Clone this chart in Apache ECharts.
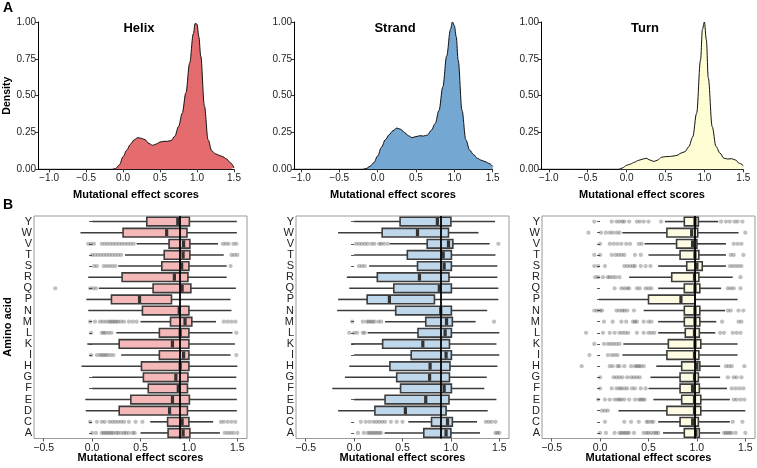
<!DOCTYPE html>
<html><head><meta charset="utf-8">
<script src="https://cdn.jsdelivr.net/npm/echarts@6/dist/echarts.min.js"></script>
<style>html,body{margin:0;padding:0;background:#fff}#c{width:757px;height:468px}</style>
</head><body><div id="c"></div><script>
// ---------- Panel A: density curves ----------
const densityX = [-1.15,-0.20,-0.15,-0.10,-0.05,0.00,0.05,0.10,0.15,0.20,0.25,0.30,0.35,0.40,0.45,0.50,0.55,0.60,0.65,0.70,0.75,0.80,0.85,0.90,0.95,0.975,1.00,1.025,1.05,1.10,1.15,1.20,1.25,1.30,1.35,1.40,1.45,1.50];
const helixDensity  = [0,0,0,0.005,0.03,0.085,0.13,0.17,0.20,0.215,0.21,0.20,0.175,0.163,0.172,0.185,0.19,0.19,0.195,0.225,0.29,0.38,0.52,0.72,0.92,0.99,0.985,0.90,0.77,0.43,0.20,0.125,0.105,0.095,0.085,0.07,0.045,0.01];
const strandDensity = [0,0,0.005,0.02,0.045,0.09,0.15,0.20,0.235,0.262,0.28,0.272,0.25,0.228,0.215,0.222,0.228,0.226,0.233,0.265,0.31,0.40,0.56,0.77,0.95,1.0,0.975,0.90,0.74,0.40,0.20,0.13,0.10,0.075,0.062,0.052,0.04,0.02];
const turnDensity   = [0,0,0,0,0.01,0.027,0.036,0.048,0.06,0.068,0.075,0.063,0.053,0.063,0.082,0.086,0.087,0.09,0.095,0.11,0.12,0.154,0.22,0.38,0.74,0.95,1.0,0.88,0.62,0.29,0.154,0.11,0.075,0.07,0.072,0.063,0.04,0.025];
const densityXTicks = [-1.0,-0.5,0.0,0.5,1.0,1.5];
const panelTitles = ['Helix','Strand','Turn'];

// ---------- Panel B: box plots ----------
const aminoAcids = ['A','C','D','E','F','G','H','I','K','L','M','N','P','Q','R','S','T','V','W','Y'];
const boxXTicks = [-0.5,0.0,0.5,1.0,1.5];

const helixLow  = [0.50,0.60,-0.065,-0.07,0.00,0.00,-0.11,0.30,-0.05,0.25,0.50,-0.04,-0.06,0.07,-0.04,0.27,0.34,0.46,-0.12,0.00];
const helixQ1   = [0.785,0.78,0.28,0.40,0.58,0.53,0.51,0.695,0.28,0.695,0.81,0.52,0.20,0.63,0.31,0.72,0.745,0.795,0.32,0.565];
const helixMed  = [0.94,0.93,0.80,0.83,0.89,0.865,0.91,0.945,0.83,0.91,0.96,0.90,0.49,0.93,0.85,0.925,0.94,0.945,0.77,0.885];
const helixQ3   = [1.01,1.00,0.985,1.005,0.985,0.99,1.00,1.00,1.00,1.00,1.03,1.00,0.82,1.02,0.99,1.00,1.01,1.01,0.98,1.005];
const helixHigh = [1.32,1.25,1.495,1.495,1.49,1.49,1.50,1.43,1.475,1.45,1.28,1.44,1.43,1.485,1.39,1.39,1.36,1.30,1.495,1.495];
const helixOutliers = [
  [0.0,0.04,0.10,0.12,0.14,0.16,0.18,0.20,0.22,0.25,0.27,0.30,0.33,0.35,0.38,0.42,0.44,1.37,1.40,1.43,1.46,1.50],
  [-0.02,0.05,0.10,0.13,0.18,0.21,0.24,0.27,0.30,0.33,0.38,0.45,0.52,1.33,1.36,1.40,1.44,1.48],
  [],[],[],[],[],
  [-0.01,0.05,0.08,0.10,0.12,0.14,0.16,0.19,0.22,1.49],
  [],
  [-0.01,0.10,0.12,0.14,0.17,0.20,1.49],
  [-0.02,0.03,0.08,0.11,0.14,0.17,0.19,0.21,0.23,0.25,0.27,0.30,0.33,0.38,0.42,0.46,1.36,1.40,1.44,1.48],
  [],[],
  [-0.38,-0.02,0.01,0.04],
  [],
  [0.02,0.05,0.12,0.15,0.18,0.21,0.24,1.43],
  [0.0,0.03,0.06,0.09,0.12,0.15,0.18,0.21,0.24,0.27,0.30,1.44,1.47,1.50],
  [-0.04,-0.01,0.02,0.10,0.13,0.16,0.19,0.22,0.25,0.28,0.31,0.34,0.37,0.40,0.43,1.35,1.38,1.41,1.46,1.49],
  [],[]
];

const strandLow  = [0.315,0.56,-0.165,0.00,-0.225,-0.095,-0.05,0.00,-0.03,0.14,0.32,-0.175,-0.165,-0.05,-0.075,0.155,0.00,0.37,-0.165,0.00];
const strandQ1   = [0.72,0.80,0.215,0.32,0.48,0.44,0.37,0.59,0.295,0.66,0.74,0.43,0.135,0.41,0.24,0.655,0.55,0.755,0.29,0.475];
const strandMed  = [0.95,0.965,0.53,0.74,0.93,0.78,0.785,0.95,0.71,0.94,0.955,0.895,0.365,0.88,0.675,0.93,0.92,0.975,0.655,0.86];
const strandQ3   = [1.00,1.015,0.95,0.98,1.005,0.985,0.99,1.005,0.985,1.005,1.015,1.005,0.83,1.005,0.98,1.005,1.005,1.02,0.975,1.00];
const strandHigh = [1.30,1.27,1.38,1.47,1.345,1.37,1.48,1.50,1.47,1.50,1.255,1.375,1.49,1.49,1.48,1.48,1.46,1.40,1.285,1.455];
const strandOutliers = [
  [0.04,0.10,0.14,0.16,0.18,0.20,0.22,0.24,0.26,0.28,1.46,1.48,1.50],
  [0.07,0.12,0.16,0.20,0.23,0.26,0.29,0.32,0.38,0.44,0.50,1.36,1.39,1.42,1.46],
  [],[],[],[],[],[],[],
  [-0.05,0.0,0.03,0.09,0.11],
  [-0.02,0.09,0.13,0.15,0.17,0.19,0.21,0.25,0.28,1.445],
  [],[],[],[],
  [0.05,0.08,0.11],
  [],
  [0.02,0.05,0.08,0.11,0.14,0.18,0.21,0.26,0.28,0.31,0.35,1.49],
  [],[]
];

const turnLow  = [0.65,0.60,0.19,0.55,0.50,0.52,0.58,0.23,0.24,0.60,0.60,0.45,-0.01,0.60,0.30,0.60,0.50,0.46,0.23,0.67];
const turnQ1   = [0.87,0.826,0.69,0.843,0.826,0.826,0.843,0.69,0.705,0.88,0.87,0.87,0.50,0.87,0.74,0.895,0.826,0.79,0.69,0.87];
const turnMed  = [0.99,0.956,0.975,0.975,0.955,0.975,1.00,0.975,0.98,0.975,0.98,0.98,0.835,0.98,0.975,1.00,0.98,0.955,0.946,0.98];
const turnQ3   = [1.025,1.015,1.04,1.04,1.025,1.015,1.03,1.02,1.04,1.025,1.03,1.03,0.98,1.03,1.02,1.055,1.02,1.00,1.008,1.015];
const turnHigh = [1.24,1.34,1.50,1.34,1.31,1.24,1.24,1.42,1.42,1.19,1.20,1.29,1.42,1.25,1.37,1.30,1.30,1.30,1.43,1.22];
const turnOutliers = [
  [0.0,0.06,0.15,0.20,0.22,0.24,0.26,0.28,0.30,0.35,0.45,0.48,0.50,0.53,0.56,0.58,0.60,1.28,1.30,1.32,1.34,1.36,1.40,1.50],
  [0.05,0.25,0.32,0.40,0.48,0.50,0.53,0.55,1.37,1.47],
  [0.02,0.05,0.08],
  [-0.02,0.05,0.10,0.15,0.18,0.20,0.22,0.25,0.30,0.36,0.40,0.42,0.44,0.46,1.38,1.41,1.45,1.49],
  [0.0,0.12,0.17,0.20,0.22,0.25,0.28,0.33,0.36,0.42,0.47,1.36,1.40,1.44,1.48],
  [0.0,0.14,0.17,0.20,0.23,0.28,0.32,0.35,0.38,0.41,1.32,1.38,1.41,1.46],
  [-0.19,0.10,0.13,0.18,0.20,0.25,0.32,0.36,0.38,0.40,0.42,0.45,1.30,1.33,1.36,1.49],
  [-0.11,0.08,0.12,0.15,0.18],
  [-0.06,0.04,0.08,0.11,0.14,0.17,0.20],
  [-0.145,0.03,0.10,0.15,0.20,0.23,0.26,0.29,0.38,0.45,0.50,0.53,0.56,1.24,1.28,1.37,1.41,1.45],
  [0.04,0.13,0.22,0.27,0.34,0.36,0.38,0.45,0.50,0.53,1.26,1.43,1.46],
  [-0.06,-0.03,0.0,0.02,0.17,0.20,0.23,0.25,0.28,0.35,1.32,1.35,1.43,1.48],
  [],
  [0.15,0.22,0.25,0.28,0.30,0.38,0.41,0.47,0.50,0.53,1.32,1.35,1.38,1.45],
  [-0.05,-0.02,0.03,0.08,0.10,0.13,0.16,0.20,1.45],
  [-0.06,-0.02,0.05,0.25,0.28,0.31,0.34,0.36,0.42,0.47,0.52,1.34,1.37,1.40,1.43,1.46],
  [-0.06,0.0,0.12,0.16,0.19,0.22,0.25,0.36,0.42,1.35,1.38,1.48],
  [0.0,0.10,0.14,0.18,0.22,0.27,0.31,0.40,0.43,1.38,1.42,1.46],
  [-0.12,0.01,0.06,0.10,0.13,0.17,0.20,1.50],
  [-0.06,0.12,0.17,0.20,0.23,0.25,0.30,0.38,0.41,0.45,0.50,0.63,1.25,1.30,1.34,1.39,1.42,1.47]
];
const referenceLines = [0.91, 0.895, 0.98];

// ---------- styles ----------
const FONT = 'Liberation Sans, Arial, Helvetica, sans-serif';
const densityFills = ['#E46B6E','#74A7D2','#FEFDD3'];
const boxFills = ['#F4B8B8','#BFD7EB','#FDFCE3'];
const minusFmt = d => v => (v < 0 ? '\u2212' : '') + Math.abs(v).toFixed(d);

const densGrids = [
  {left:38, top:22, width:196, height:147.3},
  {left:294, top:22, width:198.7, height:147.3},
  {left:541, top:22, width:202.3, height:147.3}
];
const densMins = [-1.15,-1.09,-1.10];
const boxGrids = [
  {left:34, top:216, width:213, height:222.5},
  {left:296, top:216, width:213, height:222.5},
  {left:542, top:216, width:213, height:222.5}
];

const grid = [], xAxis = [], yAxis = [], series = [];
densGrids.forEach((g,i) => {
  grid.push(Object.assign({containLabel:false}, g));
  xAxis.push({type:'value', gridIndex:i, min:densMins[i], max:1.5,
    axisLine:{show:true, onZero:false, lineStyle:{color:'#000', width:1}},
    axisTick:{show:true, length:3, lineStyle:{color:'#333'}, customValues:densityXTicks},
    axisLabel:{show:true, fontSize:10, color:'#222', fontFamily:FONT, margin:4, formatter:minusFmt(1), customValues:densityXTicks},
    splitLine:{show:false}});
  yAxis.push({type:'value', gridIndex:i, min:0, max:1, interval:0.25,
    axisLine:{show:true, onZero:false, lineStyle:{color:'#000', width:1}},
    axisTick:{show:true, length:3, lineStyle:{color:'#333'}},
    axisLabel:{show:true, fontSize:10, color:'#222', fontFamily:FONT, margin:2, formatter:v=>v.toFixed(2)},
    splitLine:{show:false}});
});
boxGrids.forEach((g,i) => {
  grid.push(Object.assign({show:true, borderColor:'#9a9a9a', borderWidth:1, backgroundColor:'transparent'}, g));
  xAxis.push({type:'value', gridIndex:3+i, min:-0.6, max:1.6,
    axisLine:{show:false},
    axisTick:{show:true, length:3, lineStyle:{color:'#555'}, customValues:boxXTicks},
    axisLabel:{show:true, fontSize:10.5, color:'#222', fontFamily:FONT, margin:4, formatter:minusFmt(1), customValues:boxXTicks},
    splitLine:{show:false}});
  yAxis.push({type:'category', gridIndex:3+i, data:aminoAcids,
    axisLine:{show:false},
    axisTick:{show:true, length:3, alignWithLabel:true, lineStyle:{color:'#555'}},
    axisLabel:{show:true, fontSize:11, color:'#222', fontFamily:FONT, margin:2, interval:0},
    splitLine:{show:false}});
});

[helixDensity, strandDensity, turnDensity].forEach((d,i) => {
  series.push({type:'line', xAxisIndex:i, yAxisIndex:i, data:densityX.map((x,j)=>[x,d[j]]),
    showSymbol:false, smooth:0.35, smoothMonotone:'x',
    lineStyle:{color:'#111', width:1}, areaStyle:{color:densityFills[i], opacity:1}, silent:true});
});

function boxRender(fill){
  return function(params, api){
    const cat = api.value(0);
    const lo = api.coord([api.value(1), cat]);
    const q1 = api.coord([api.value(2), cat]);
    const md = api.coord([api.value(3), cat]);
    const q3 = api.coord([api.value(4), cat]);
    const hi = api.coord([api.value(5), cat]);
    const band = api.size([0,1])[1];
    const h = band*0.78, y = md[1], stroke = '#3c3c3c';
    return {type:'group', children:[
      {type:'line', shape:{x1:lo[0],y1:y,x2:q1[0],y2:y}, style:{stroke, lineWidth:1.6}},
      {type:'line', shape:{x1:q3[0],y1:y,x2:hi[0],y2:y}, style:{stroke, lineWidth:1.6}},
      {type:'rect', shape:{x:q1[0], y:y-h/2, width:q3[0]-q1[0], height:h}, style:{fill, stroke, lineWidth:1.6}},
      {type:'line', shape:{x1:md[0],y1:y-h/2+0.8,x2:md[0],y2:y+h/2-0.8}, style:{stroke:'#333', lineWidth:3.2}}
    ]};
  };
}
const boxSets = [
  [helixLow,helixQ1,helixMed,helixQ3,helixHigh,helixOutliers],
  [strandLow,strandQ1,strandMed,strandQ3,strandHigh,strandOutliers],
  [turnLow,turnQ1,turnMed,turnQ3,turnHigh,turnOutliers]
];
boxSets.forEach((s,i) => {
  const [lo,q1,md,q3,hi,out] = s;
  series.push({type:'custom', xAxisIndex:3+i, yAxisIndex:3+i, z:2,
    encode:{x:[1,2,3,4,5], y:0},
    data:aminoAcids.map((a,k)=>[k,lo[k],q1[k],md[k],q3[k],hi[k]]),
    renderItem:boxRender(boxFills[i]), silent:true});
  const pts = [];
  out.forEach((arr,k)=>arr.forEach(v=>pts.push([v,k])));
  series.push({type:'scatter', xAxisIndex:3+i, yAxisIndex:3+i, z:3, data:pts,
    symbolSize:4.3, itemStyle:{color:'rgba(60,60,60,0.4)'}, silent:true,
    markLine:{silent:true, symbol:'none', label:{show:false}, animation:false,
      lineStyle:{color:'#000', width:1.8, type:'solid'}, data:[{xAxis:referenceLines[i]}]}});
});

const txt = (text, x, y, size, opts={}) => Object.assign({type:'text', x, y, rotation:opts.rot||0,
  style:{text, fill:'#000', font:'bold '+size+'px '+FONT, textAlign:opts.align||'center', textVerticalAlign:opts.va||'middle'}});
const graphic = [
  txt('A', 3, 8, 14, {align:'left'}),
  txt('B', 3, 205, 14, {align:'left'}),
  txt(panelTitles[0], 139, 28, 13),
  txt(panelTitles[1], 395, 28, 13),
  txt(panelTitles[2], 645, 28, 13),
  txt('Density', 7, 95.7, 10.5, {rot:Math.PI/2}),
  txt('Amino acid', 8, 327, 11, {rot:Math.PI/2}),
  txt('Mutational effect scores', 136, 195, 11),
  txt('Mutational effect scores', 393, 195, 11),
  txt('Mutational effect scores', 642, 195, 11),
  txt('Mutational effect scores', 140.5, 458, 11),
  txt('Mutational effect scores', 402.5, 458, 11),
  txt('Mutational effect scores', 648.5, 458, 11)
];

const chart = echarts.init(document.getElementById('c'), null, {renderer:'canvas'});
chart.setOption({animation:false, backgroundColor:'#fff', textStyle:{fontFamily:FONT},
  grid, xAxis, yAxis, series, graphic});
</script></body></html>
